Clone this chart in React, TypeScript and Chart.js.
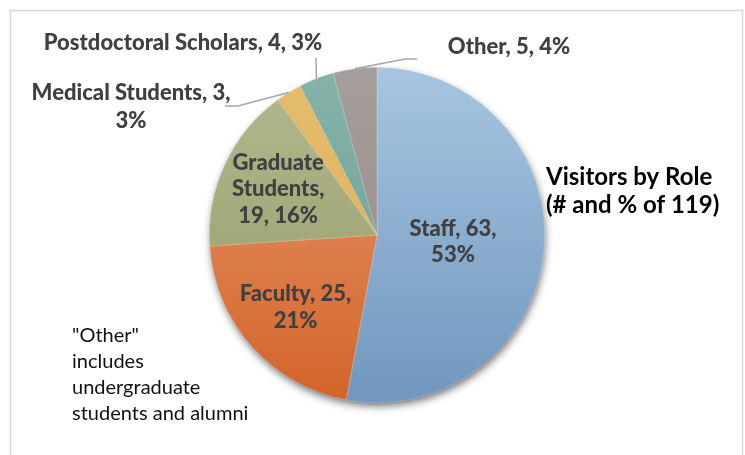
import React, { useEffect, useRef } from 'react';
import { Chart, registerables } from 'chart.js';

Chart.register(...registerables);

const categories = ['Staff', 'Faculty', 'Graduate Students', 'Medical Students', 'Postdoctoral Scholars', 'Other'];
const counts = [63, 25, 19, 3, 4, 5];
const percents = [53, 21, 16, 3, 3, 4];
const sliceLabelLines = [
  ['Staff, 63,', '53%'],
  ['Faculty, 25,', '21%'],
  ['Graduate', 'Students,', '19, 16%'],
  ['Medical Students, 3,', '3%'],
  ['Postdoctoral Scholars, 4, 3%'],
  ['Other, 5, 4%'],
];
const titleLines = ['Visitors by Role', '(# and % of 119)'];
const noteLines = ['"Other"', 'includes', 'undergraduate', 'students and alumni'];

const topColors = ['#a7c5e0', '#e99a70', '#b4b890', '#e6bd6d', '#84b3a8', '#a69e9c'];
const bottomColors = ['#7097be', '#d2642a', '#949a65', '#dbad57', '#6d9f94', '#938987'];

// label placement: inside labels use radius fraction; outside labels use anchor + leader path
const inside: Record<number, number> = { 0: 0.455, 1: 0.65, 2: 0.65 };
const outside: Record<number, { cx: number; cy: number; path: [number, number][] }> = {
  3: { cx: 131, cy: 92.5, path: [[238, 106], [225, 106]] },
  4: { cx: 183, cy: 43, path: [[316, 58]] },
  5: { cx: 509, cy: 46.5, path: [[405, 59], [417, 59]] },
};

const LABEL_FONT = '900 22px Lato';
const LINE_H = 26.5;

const framePlugin = {
  id: 'frame',
  beforeDraw(chart: any) {
    const ctx = chart.ctx;
    ctx.save();
    ctx.fillStyle = '#ffffff';
    ctx.fillRect(0, 0, chart.width, chart.height);
    ctx.strokeStyle = '#d9d9d9';
    ctx.lineWidth = 1.5;
    ctx.strokeRect(10.5, 10.5, 732, 470);
    ctx.restore();
  },
};

const shadowPlugin = {
  id: 'pieShadow',
  beforeDatasetsDraw(chart: any) {
    const arc = chart.getDatasetMeta(0).data[0];
    if (!arc) return;
    const { x, y, outerRadius } = arc.getProps(['x', 'y', 'outerRadius'], true);
    const ctx = chart.ctx;
    ctx.save();
    ctx.shadowColor = 'rgba(0,0,0,0.6)';
    ctx.shadowBlur = 9;
    ctx.shadowOffsetX = 1;
    ctx.shadowOffsetY = 4;
    ctx.beginPath();
    ctx.arc(x, y, outerRadius - 1, 0, Math.PI * 2);
    ctx.fillStyle = '#888';
    ctx.fill();
    ctx.restore();
  },
};

const labelPlugin = {
  id: 'sliceLabels',
  afterDatasetsDraw(chart: any) {
    const ctx = chart.ctx;
    const meta = chart.getDatasetMeta(0);
    ctx.save();
    ctx.textAlign = 'center';
    ctx.textBaseline = 'middle';
    ctx.font = LABEL_FONT;
    ctx.fillStyle = '#404040';
    meta.data.forEach((arc: any, i: number) => {
      const { x, y, startAngle, endAngle, outerRadius } = arc.getProps(
        ['x', 'y', 'startAngle', 'endAngle', 'outerRadius'],
        true
      );
      const mid = (startAngle + endAngle) / 2;
      const lines = sliceLabelLines[i];
      if (inside[i] !== undefined) {
        const r = outerRadius * inside[i];
        const cx = x + Math.cos(mid) * r;
        const cy = y + Math.sin(mid) * r;
        const y0 = cy - ((lines.length - 1) * LINE_H) / 2;
        lines.forEach((t, k) => ctx.fillText(t, cx, y0 + k * LINE_H));
      } else if (outside[i]) {
        const o = outside[i];
        ctx.save();
        ctx.strokeStyle = '#a6a6a6';
        ctx.lineWidth = 1.5;
        ctx.beginPath();
        ctx.moveTo(x + Math.cos(mid) * outerRadius, y + Math.sin(mid) * outerRadius);
        o.path.forEach(([px, py]) => ctx.lineTo(px, py));
        ctx.stroke();
        ctx.restore();
        const y0 = o.cy;
        lines.forEach((t, k) => ctx.fillText(t, o.cx, y0 + k * 28));
      }
    });
    ctx.restore();

    // title and note
    ctx.save();
    ctx.fillStyle = '#000000';
    ctx.textAlign = 'left';
    ctx.textBaseline = 'alphabetic';
    ctx.font = 'bold 24px Lato';
    titleLines.forEach((t, k) => ctx.fillText(t, 546, 185 + k * 28));
    ctx.font = '20px Lato';
    ctx.fillStyle = '#111111';
    noteLines.forEach((t, k) => ctx.fillText(t, 72, 342 + k * 26));
    ctx.restore();
  },
};

export default function App() {
  const ref = useRef<HTMLCanvasElement | null>(null);
  useEffect(() => {
    if (!ref.current) return;
    const chart = new Chart(ref.current, {
      type: 'pie',
      data: {
        labels: categories,
        datasets: [
          {
            data: counts,
            backgroundColor: (c: any) => {
              const area = c.chart.chartArea;
              const i = c.dataIndex;
              if (!area) return topColors[i];
              const g = c.chart.ctx.createLinearGradient(0, area.top, 0, area.bottom);
              g.addColorStop(0, topColors[i]);
              g.addColorStop(1, bottomColors[i]);
              return g;
            },
            borderColor: 'rgba(255,255,255,0.35)',
            borderWidth: 0.6,
          },
        ],
      },
      options: {
        responsive: false,
        animation: false,
        layout: { padding: { top: 67, bottom: 52, left: 209, right: 200 } },
        plugins: {
          legend: { display: false },
          tooltip: { enabled: false },
          title: { display: false },
        },
      },
      plugins: [framePlugin, shadowPlugin, labelPlugin],
    });
    return () => chart.destroy();
  }, []);
  return (
    <div style={{ position: 'fixed', left: 0, top: 0, width: 745, height: 455 }}>
      <canvas ref={ref} width={745} height={455} />
    </div>
  );
}
